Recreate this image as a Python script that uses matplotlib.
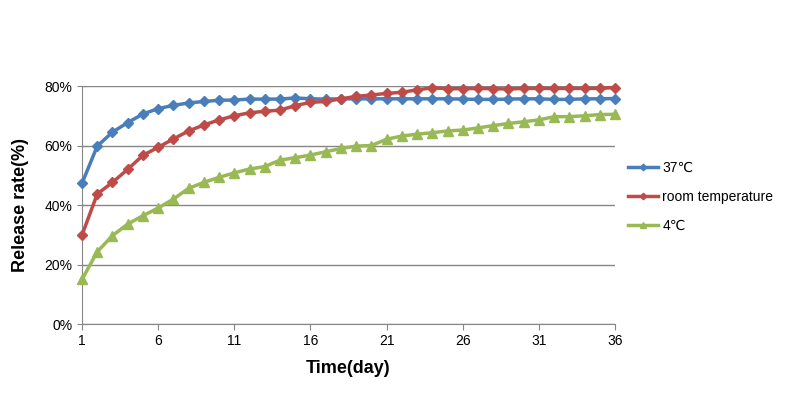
import matplotlib.pyplot as plt
from matplotlib.ticker import PercentFormatter

plt.rcParams['font.family'] = ['Liberation Sans', 'DejaVu Sans']

days = list(range(1, 37))
labels = ['37℃', 'room temperature', '4℃']

# release rate (%)
rate_37 = [47.3, 59.8, 64.5, 67.7, 70.6, 72.4, 73.5, 74.3, 74.8, 75.2, 75.3, 75.6,
           75.6, 75.6, 76.0, 75.7, 75.6, 75.7, 75.7, 75.7, 75.7, 75.7, 75.7, 75.7,
           75.7, 75.6, 75.5, 75.5, 75.6, 75.7, 75.7, 75.5, 75.5, 75.7, 75.7, 75.8]
rate_room = [29.9, 43.7, 47.6, 52.0, 56.7, 59.4, 62.2, 64.9, 66.9, 68.6, 70.0, 71.0,
             71.5, 71.9, 73.4, 74.5, 74.8, 75.7, 76.5, 77.0, 77.5, 77.9, 78.7, 79.4,
             79.1, 79.1, 79.2, 79.1, 79.0, 79.2, 79.2, 79.2, 79.2, 79.2, 79.2, 79.5]
rate_4 = [15.0, 24.3, 29.7, 33.6, 36.4, 39.0, 42.0, 45.6, 47.6, 49.3, 50.8, 52.1,
          52.9, 55.1, 55.9, 56.8, 57.9, 59.0, 59.8, 60.0, 62.1, 63.2, 63.8, 64.3,
          64.9, 65.2, 65.9, 66.7, 67.4, 68.0, 68.6, 69.7, 69.7, 70.0, 70.4, 70.5]

series = [rate_37, rate_room, rate_4]
colors = ['#4A7EBB', '#BE4B48', '#98B954']
markers = ['D', 'D', '^']
sizes = [5.5, 5.5, 7]

fig = plt.figure(figsize=(7.94, 4.01), dpi=100)
ax = fig.add_axes([0.1033, 0.192, 0.6713, 0.5935])

for vals, lab, c, m, s in zip(series, labels, colors, markers, sizes):
    ax.plot(days, vals, color=c, marker=m, markersize=s, linewidth=2.5,
            label=lab, markeredgecolor=c, clip_on=False, zorder=3)

ax.set_xlim(1, 36)
ax.set_ylim(0, 80)
ax.set_xticks(range(1, 37, 5))
ax.set_yticks(range(0, 81, 20))
ax.yaxis.set_major_formatter(PercentFormatter(decimals=0))
ax.grid(axis='y', color='#868686', linewidth=1)
ax.set_axisbelow(True)
for side in ['top', 'right']:
    ax.spines[side].set_visible(False)
for side in ['left', 'bottom']:
    ax.spines[side].set_color('#868686')
ax.tick_params(colors='#868686', labelcolor='black', labelsize=10, length=4)
ax.tick_params(axis='y', direction='inout', length=7)

ax.set_xlabel('Time(day)', fontsize=13, fontweight='bold', labelpad=8)
ax.set_ylabel('Release rate(%)', fontsize=13, fontweight='bold', labelpad=11)

ax.legend(loc='center left', bbox_to_anchor=(1.0, 0.535), frameon=False,
          fontsize=10, handlelength=2.2, handletextpad=0.3, labelspacing=1.1,
          markerscale=0.6)

fig.savefig('out.png', dpi=100)
